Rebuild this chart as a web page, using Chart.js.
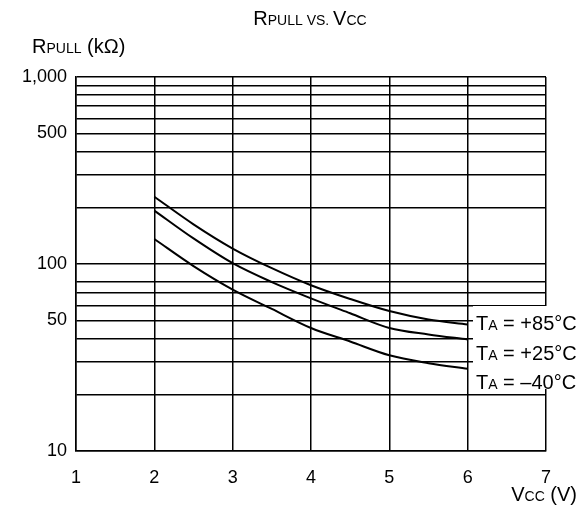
<!DOCTYPE html>
<html>
<head>
<meta charset="utf-8">
<script src="https://cdn.jsdelivr.net/npm/chart.js@4/dist/chart.umd.min.js"></script>
<style>
    html, body { margin: 0; padding: 0; background: #fff; }
</style>
</head>
<body>
<canvas id="chart" width="585" height="515"></canvas>
<script>
// values
const vcc = [2, 2.5, 3, 3.5, 4, 4.5, 5, 5.5, 6];
const r85 = [229, 163, 121, 95, 77, 65, 56, 50.5, 47.5];
const r25 = [193, 137, 101, 80, 65.5, 54.5, 45.5, 42, 39.5];
const rMinus40 = [136, 97.5, 73, 57.5, 45.5, 38.5, 32.5, 29.5, 27.5];

const xTicks = [1, 2, 3, 4, 5, 6, 7];
const yGrid = [10, 20, 30, 40, 50, 60, 70, 80, 100, 200, 300, 400, 500, 600, 700, 800, 900, 1000];
const yLabelValues = [10, 50, 100, 500, 1000];
const seriesLabels = ['+85°C', '+25°C', '–40°C'];

const FONT = 'Arial, "Liberation Sans", sans-serif';
const BIG = 20, SMALL = 14;

function toPoints(ys) {
    return vcc.map((v, i) => ({x: v, y: ys[i]}));
}

// draws text made of pieces in different sizes (for the small caps subscripts)
function drawParts(ctx, parts, x, y, align) {
    let total = 0;
    parts.forEach(p => {
        ctx.font = p[1] + 'px ' + FONT;
        total += ctx.measureText(p[0]).width;
    });
    let cx = x;
    if (align === 'center') cx = x - total / 2;
    if (align === 'right') cx = x - total;
    ctx.textAlign = 'left';
    ctx.textBaseline = 'alphabetic';
    ctx.fillStyle = '#000';
    parts.forEach(p => {
        ctx.font = p[1] + 'px ' + FONT;
        ctx.fillText(p[0], cx, y);
        cx += ctx.measureText(p[0]).width;
    });
}

const textPlugin = {
    id: 'texts',
    afterDatasetsDraw(chart) {
        const ctx = chart.ctx;
        ctx.save();
        // white box behind the curve labels
        ctx.fillStyle = '#fff';
        ctx.fillRect(473, 306, 112, 83);
        const baselines = [330, 360, 389];
        seriesLabels.forEach((lab, i) => {
            drawParts(ctx, [['T', BIG], ['A', SMALL], [' = ' + lab, BIG]], 476, baselines[i], 'left');
        });
        ctx.restore();
    },
    afterDraw(chart) {
        const ctx = chart.ctx;
        ctx.save();
        drawParts(ctx, [['R', BIG], ['PULL', SMALL], [' VS. ', SMALL], ['V', BIG], ['CC', SMALL]], 310, 25, 'center');
        drawParts(ctx, [['R', BIG], ['PULL', SMALL], [' (kΩ)', BIG]], 32, 53, 'left');
        drawParts(ctx, [['V', BIG], ['CC', SMALL], [' (V)', BIG]], 577, 501, 'right');
        ctx.restore();
    }
};

const ds = (data) => ({
    data: toPoints(data),
    borderColor: '#000',
    borderWidth: 2,
    pointRadius: 0,
    fill: false,
    cubicInterpolationMode: 'monotone'
});

const ctx = document.getElementById('chart').getContext('2d');
const chart = new Chart(ctx, {
    type: 'line',
    data: {
        datasets: [ds(r85), ds(r25), ds(rMinus40)]
    },
    options: {
        responsive: false,
        animation: false,
        layout: {padding: {top: 77, right: 39, left: 0, bottom: 0}},
        plugins: {
            legend: {display: false},
            tooltip: {enabled: false},
            title: {display: false}
        },
        scales: {
            x: {
                type: 'linear',
                min: 1,
                max: 7,
                afterBuildTicks: (axis) => {
                    axis.ticks = xTicks.map(v => ({value: v}));
                },
                afterFit: (scale) => { scale.height = 64; },
                grid: {color: '#000', lineWidth: 1.5, drawTicks: false},
                border: {display: true, color: '#000', width: 1.5},
                ticks: {
                    color: '#000',
                    font: {size: 18, family: FONT},
                    padding: 16,
                    maxRotation: 0
                }
            },
            y: {
                type: 'logarithmic',
                min: 10,
                max: 1000,
                afterBuildTicks: (axis) => {
                    axis.ticks = yGrid.map(v => ({value: v}));
                },
                afterFit: (scale) => { scale.width = 76; },
                grid: {color: '#000', lineWidth: 1.5, drawTicks: false},
                border: {display: true, color: '#000', width: 1.5},
                ticks: {
                    color: '#000',
                    font: {size: 18, family: FONT},
                    padding: 9,
                    autoSkip: false,
                    callback: (v) => yLabelValues.includes(v) ? v.toLocaleString('en-US') : ''
                }
            }
        }
    },
    plugins: [textPlugin]
});
</script>
</body>
</html>
